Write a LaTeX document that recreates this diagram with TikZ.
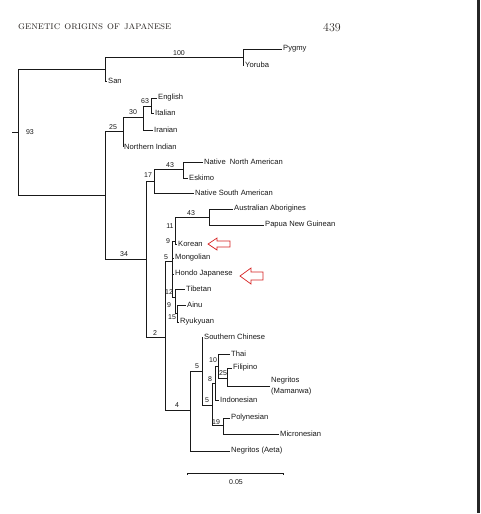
\documentclass[tikz,border=0pt]{standalone}
\usepackage{fontspec}
\newfontfamily\treefont{Liberation Sans}
\definecolor{treeline}{RGB}{25,25,25}
\definecolor{arrowred}{RGB}{215,35,35}
\definecolor{headgray}{RGB}{45,41,38}
\begin{document}
\begin{tikzpicture}[x=1pt,y=-1pt,
  tree/.style={draw=treeline,line width=0.8pt},
  leaf/.style={anchor=west,inner sep=1pt,text=treeline,font=\treefont\fontsize{7.6}{8}\selectfont},
  bs/.style={inner sep=0pt,text=treeline,font=\treefont\fontsize{7}{8}\selectfont},
  redarrow/.style={draw=arrowred,line width=0.7pt,fill=white,line join=miter}
  ]
\useasboundingbox (0,0) rectangle (480,514);
\fill[white] (0,0) rectangle (480,514);
\fill[black!85] (477,0) rectangle (480,513);

% header
\node[anchor=base west,inner sep=0pt,text=headgray,font=\fontsize{10.9}{12}\selectfont] (title) at (18,29) {\textsc{genetic origins of japanese}};
\node[anchor=base west,inner sep=0pt,text=headgray,font=\fontsize{12}{14}\selectfont] (page) at (323,31) {439};

% internal nodes
\coordinate (stub) at (12,132);
\coordinate (R) at (18,132);
\coordinate (A) at (105,69);
\coordinate (B) at (243,57);
\coordinate (C) at (105,195);
\coordinate (D) at (123,131);
\coordinate (F) at (143,117);
\coordinate (G) at (151,106);
\coordinate (E) at (146,259);
\coordinate (H) at (154,181);
\coordinate (J) at (183,169);
\coordinate (K) at (165,337);
\coordinate (L) at (172,261);
\coordinate (N) at (175,241);
\coordinate (P) at (209,217);
\coordinate (O) at (175,297);
\coordinate (Q) at (177,313);
\coordinate (M) at (190,410);
\coordinate (S) at (202,371);
\coordinate (T) at (212,405);
\coordinate (U) at (215,383);
\coordinate (W) at (218,366);
\coordinate (X) at (227,378);
\coordinate (V) at (223,425);

% leaves
\node[leaf] (pygmy) at (282,49) {Pygmy};
\node[leaf] (yoruba) at (244,65) {Yoruba};
\node[leaf] (san) at (107,81) {San};
\node[leaf] (english) at (157,98) {English};
\node[leaf] (italian) at (154,113) {Italian};
\node[leaf] (iranian) at (153,130) {Iranian};
\node[leaf] (nindian) at (123,147) {Northern Indian};
\node[leaf] (nna) at (203,162) {Native\ \ North American};
\node[leaf] (eskimo) at (188,178) {Eskimo};
\node[leaf] (nsa) at (194,193) {Native South American};
\node[leaf] (ausab) at (233,209) {Australian Aborigines};
\node[leaf] (png) at (264,225) {Papua New Guinean};
\node[leaf] (korean) at (177,244) {Korean};
\node[leaf] (mongolian) at (174,258) {Mongolian};
\node[leaf] (hondo) at (174,274) {Hondo Japanese};
\node[leaf] (tibetan) at (185,289) {Tibetan};
\node[leaf] (ainu) at (186,305) {Ainu};
\node[leaf] (ryukyuan) at (179,322) {Ryukyuan};
\node[leaf] (sch) at (203,337) {Southern Chinese};
\node[leaf] (thai) at (230,354) {Thai};
\node[leaf] (filipino) at (232,368) {Filipino};
\node[leaf,align=left,font=\treefont\fontsize{7.6}{11.5}\selectfont] (negmam) at (270,386) {Negritos\\(Mamanwa)};
\node[leaf] (indonesian) at (219,400) {Indonesian};
\node[leaf] (polynesian) at (230,418) {Polynesian};
\node[leaf] (micronesian) at (279,434) {Micronesian};
\node[leaf] (negaeta) at (230,451) {Negritos (Aeta)};

% branches
\draw[tree] (stub) -- (R);
\draw[tree] (R) |- (A);
\draw[tree] (R) |- (C);
\draw[tree] (A) |- (B);
\draw[tree] (A) |- (san.west);
\draw[tree] (B) |- (pygmy.west);
\draw[tree] (B) |- (yoruba.west);
\draw[tree] (C) |- (D);
\draw[tree] (C) |- (E);
\draw[tree] (D) |- (F);
\draw[tree] (D) |- (nindian.west);
\draw[tree] (F) |- (G);
\draw[tree] (F) |- (iranian.west);
\draw[tree] (G) |- (english.west);
\draw[tree] (G) |- (italian.west);
\draw[tree] (E) |- (H);
\draw[tree] (E) |- (K);
\draw[tree] (H) |- (J);
\draw[tree] (H) |- (nsa.west);
\draw[tree] (J) |- (nna.west);
\draw[tree] (J) |- (eskimo.west);
\draw[tree] (K) |- (L);
\draw[tree] (K) |- (M);
\draw[tree] (L) |- (N);
\draw[tree] (L) |- (mongolian.west);
\draw[tree] (L) |- (hondo.west);
\draw[tree] (L) |- (O);
\draw[tree] (N) |- (P);
\draw[tree] (N) |- (korean.west);
\draw[tree] (P) |- (ausab.west);
\draw[tree] (P) |- (png.west);
\draw[tree] (O) |- (tibetan.west);
\draw[tree] (O) |- (Q);
\draw[tree] (Q) |- (ainu.west);
\draw[tree] (Q) |- (ryukyuan.west);
\draw[tree] (M) |- (S);
\draw[tree] (M) |- (negaeta.west);
\draw[tree] (S) |- (sch.west);
\draw[tree] (S) |- (T);
\draw[tree] (T) |- (U);
\draw[tree] (T) |- (V);
\draw[tree] (U) |- (W);
\draw[tree] (U) |- (indonesian.west);
\draw[tree] (W) |- (thai.west);
\draw[tree] (W) |- (X);
\draw[tree] (X) |- (filipino.west);
\draw[tree] (X) |- (negmam.west);
\draw[tree] (V) |- (polynesian.west);
\draw[tree] (V) |- (micronesian.west);

% bootstrap values
\node[bs] (b93) at (30,132) {93};
\node[bs] (b100) at (179,53) {100};
\node[bs] (b25a) at (113,127) {25};
\node[bs] (b30) at (133,112) {30};
\node[bs] (b63) at (145,101) {63};
\node[bs] (b34) at (124,254) {34};
\node[bs] (b17) at (148,175) {17};
\node[bs] (b43a) at (170,165) {43};
\node[bs] (b2) at (155,333) {2};
\node[bs] (b5a) at (166,257) {5};
\node[bs] (b43b) at (191,213) {43};
\node[bs] (b11) at (170,226) {11};
\node[bs] (b9a) at (168,241) {9};
\node[bs] (b12) at (169,292) {12};
\node[bs] (b9b) at (169,305) {9};
\node[bs] (b15) at (172,317) {15};
\node[bs] (b4) at (177,405) {4};
\node[bs] (b5b) at (197,366) {5};
\node[bs] (b5c) at (207,400) {5};
\node[bs] (b8) at (210,379) {8};
\node[bs] (b10) at (213,360) {10};
\node[bs] (b25b) at (223,373) {25};
\node[bs] (b19) at (216,422) {19};

% scale bar
\coordinate (sb1) at (187,473);
\coordinate (sb2) at (283,473);
\draw[tree,line width=0.6pt] ([yshift=-1.5pt]sb1) -- (sb1) -- (sb2) -- ([yshift=-1.5pt]sb2);
\node[bs] (sblabel) at (236,482) {0.05};

% red arrows
\draw[redarrow] (208,244) -- (217,238) -- (217,241) -- (230,241) -- (230,247) -- (217,247) -- (217,250) -- cycle;
\draw[redarrow] (240,276) -- (251,268) -- (251,272) -- (263,272) -- (263,280) -- (251,280) -- (251,284) -- cycle;
\end{tikzpicture}
\end{document}
